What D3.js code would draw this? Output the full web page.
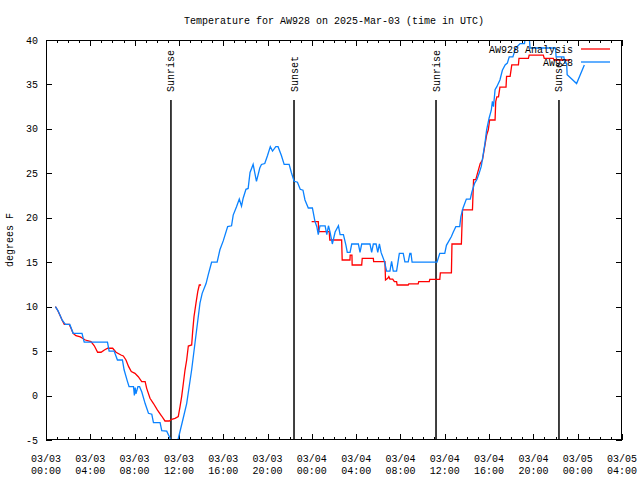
<!DOCTYPE html>
<html>
<head>
<meta charset="utf-8">
<script src="https://cdn.jsdelivr.net/npm/d3@7"></script>
<style>
  html, body { margin: 0; padding: 0; background: #fff; }
  svg { display: block; }
  text { font-family: "Liberation Mono", "DejaVu Sans Mono", monospace; font-size: 10px; fill: #000; }
</style>
</head>
<body>
<svg id="chart" width="640" height="480"></svg>
<script>
// ---- data (hours since 2025-03-03 00:00 UTC, degrees F) ----
const titleText = "Temperature for AW928 on 2025-Mar-03 (time in UTC)";
const yLabel = "degrees F";
const seriesNames = ["AW928 Analysis", "AW928"];

const obsHours = [0.85,1.1,1.45,1.75,2.15,2.45,3.25,3.45,5.55,5.7,6.15,6.45,6.9,7.05,7.35,7.5,7.9,7.98,8.05,8.12,8.3,8.45,8.65,8.95,9.25,9.55,9.7,10.3,10.45,10.9,11.2,11.4,11.7,11.95,12.3,12.7,13.15,13.6,13.9,14.1,14.45,14.65,14.95,15.45,15.7,16.0,16.4,16.75,16.9,17.2,17.45,17.65,17.8,18.05,18.25,18.42,18.7,19.0,19.3,19.45,19.75,20.0,20.25,20.45,20.75,20.95,21.25,21.5,21.95,22.15,22.4,22.7,22.95,23.2,23.38,23.68,24.05,24.28,24.45,24.58,24.73,25.2,25.35,25.5,25.64,25.85,26.1,26.4,26.55,26.85,27.08,27.2,27.45,27.6,28.2,28.35,28.5,29.25,29.4,29.55,29.8,29.95,30.1,30.25,30.55,30.75,31.05,31.2,31.35,31.65,31.9,32.25,32.4,32.7,32.85,32.95,33.05,35.3,35.55,36.0,36.15,36.6,36.77,37.0,37.35,37.45,37.65,37.95,38.3,38.45,38.7,38.9,39.1,39.3,39.45,39.63,39.78,40.0,40.2,40.3,40.4,40.54,40.7,40.98,41.2,41.45,41.65,41.82,42.15,42.4,42.8,43.2,43.35,43.55,43.7,46.0,46.05,46.75,46.85,47.0,47.05,47.9,48.6];
const obsTemps = [10.0,9.5,8.5,8.0,8.0,7.0,7.0,6.0,6.0,5.0,5.0,4.0,4.0,2.9,1.6,1.0,1.0,0.0,0.9,0.2,1.0,1.0,0.4,-0.9,-2.0,-2.1,-3.05,-3.05,-3.95,-4.0,-4.8,-6.0,-6.0,-4.8,-3.0,-0.9,2.9,7.4,10.4,11.5,12.6,13.6,15.0,15.0,16.4,17.4,19.0,19.1,20.3,21.25,22.1,21.3,22.2,23.2,23.3,25.1,26.0,24.1,25.6,26.0,26.1,27.0,28.0,27.5,28.0,28.0,27.0,26.0,26.0,25.1,24.1,24.0,23.2,23.1,22.0,21.1,21.1,19.6,19.0,18.1,19.1,19.1,18.1,19.1,18.4,17.05,18.4,19.1,18.1,18.1,16.9,16.1,16.1,17.05,17.05,16.1,17.05,17.05,16.1,17.05,17.05,16.1,17.05,16.1,15.1,14.0,14.0,15.1,14.0,14.0,16.0,16.0,15.05,15.05,16.0,16.0,15.0,15.0,16.0,16.0,16.9,17.9,18.4,19.0,19.0,20.1,21.1,22.1,22.1,22.9,23.9,24.3,25.0,25.8,27.0,28.4,29.9,31.2,32.1,33.1,32.5,34.4,34.75,35.5,36.6,37.2,37.4,38.1,38.1,39.1,39.6,39.6,41.5,41.5,39.1,39.1,38.1,38.1,37.4,37.4,36.1,35.1,37.2];

const anaHours1 = [0.85,1.05,1.25,1.45,1.65,2.1,2.26,2.45,2.7,3.1,3.3,3.55,4.06,4.36,4.66,4.97,5.27,5.57,6.02,6.32,6.77,6.98,7.22,7.46,7.7,8.03,8.33,8.64,8.95,9.09,9.39,9.69,10.05,10.44,10.74,11.13,11.35,11.65,11.94,12.1,12.25,12.4,12.55,12.7,12.85,13.15,13.24,13.36,13.54,13.7,13.84,14.0];
const anaTemps1 = [10.0,9.6,9.06,8.5,8.0,8.0,7.56,7.0,6.74,6.6,6.44,6.25,6.06,5.6,4.87,4.87,5.13,5.32,5.32,4.87,4.56,4.45,4.0,3.25,2.7,2.5,2.12,1.56,1.56,0.81,-0.31,-0.87,-1.62,-2.3,-2.86,-2.86,-2.67,-2.56,-2.37,-1.25,-0.1,1.38,2.87,4.0,5.57,5.69,7.19,8.87,10.4,11.7,12.44,12.44];
const anaHours2 = [23.98,24.58,24.62,25.57,25.62,26.69,26.74,27.44,27.46,27.62,27.64,28.5,28.55,29.55,29.58,30.6,30.65,30.85,30.95,31.05,31.3,31.45,31.65,31.7,32.7,32.75,33.6,33.65,34.6,34.65,35.55,35.6,36.6,36.65,37.5,37.6,38.5,38.6,38.8,38.95,39.2,39.4,39.63,39.78,39.93,40.05,40.54,40.6,40.7,40.85,40.98,41.53,41.58,41.9,42.05,42.65,42.7,43.55,43.62,44.9,44.98,45.8,45.86,47.3];
const anaTemps2 = [19.56,19.56,18.44,18.44,17.5,17.5,15.25,15.25,15.8,15.8,14.69,14.69,15.44,15.44,15.06,15.06,13.0,13.19,13.38,13.1,13.1,12.81,12.81,12.44,12.44,12.56,12.56,12.81,12.81,13.06,13.06,13.8,13.8,17.05,17.05,20.9,20.9,24.3,24.3,25.0,26.1,26.5,28.2,29.3,29.9,31.0,31.0,33.06,33.6,33.6,34.7,34.7,35.9,35.9,37.2,37.2,37.94,37.94,38.3,38.3,37.94,37.94,37.75,37.75];

const sunLabels = ["Sunrise", "Sunset", "Sunrise", "Sunset"];
const sunHours = [11.28, 22.39, 35.21, 46.31];

const xTickHours = [0,4,8,12,16,20,24,28,32,36,40,44,48,52];
const xTickDates = ["03/03","03/03","03/03","03/03","03/03","03/03","03/04","03/04","03/04","03/04","03/04","03/04","03/05","03/05"];
const xTickTimes = ["00:00","04:00","08:00","12:00","16:00","20:00","00:00","04:00","08:00","12:00","16:00","20:00","00:00","04:00"];
const yTicks = [-5,0,5,10,15,20,25,30,35,40];

// ---- layout ----
const svg = d3.select("#chart");
const L = 46, R = 622, T = 40, B = 440;
const x = d3.scaleLinear().domain([0, 52]).range([L, R]);
const y = d3.scaleLinear().domain([-5, 40]).range([B, T]);
const redC = "#ff0000", blueC = "#0a82ff";

svg.append("defs").append("clipPath").attr("id", "clip")
  .append("rect").attr("x", L).attr("y", T).attr("width", R - L).attr("height", B - T);

// title
svg.append("text").attr("x", 334).attr("y", 24).attr("text-anchor", "middle").text(titleText);

// y label
svg.append("text").attr("transform", "translate(13,240) rotate(-90)")
  .attr("text-anchor", "middle").text(yLabel);

// ticks
const tk = svg.append("g").attr("stroke", "#000").attr("stroke-width", 1).attr("shape-rendering", "crispEdges");
d3.range(0, 53, 1).forEach(h => {
  const major = h % 4 === 0;
  const len = major ? 6 : 3;
  const xx = Math.round(x(h)) + 0.5;
  tk.append("line").attr("x1", xx).attr("x2", xx).attr("y1", B).attr("y2", B - len);
  tk.append("line").attr("x1", xx).attr("x2", xx).attr("y1", T).attr("y2", T + len);
});
yTicks.forEach(v => {
  const yy = Math.round(y(v)) + 0.5;
  tk.append("line").attr("x1", L).attr("x2", L + 6).attr("y1", yy).attr("y2", yy);
  tk.append("line").attr("x1", R).attr("x2", R - 6).attr("y1", yy).attr("y2", yy);
});

// tick labels
svg.append("g").selectAll("text").data(yTicks).join("text")
  .attr("x", 38).attr("y", d => y(d) + 3.5).attr("text-anchor", "end").text(d => d);
const xl = svg.append("g").selectAll("g").data(xTickHours).join("g");
xl.append("text").attr("x", d => x(d)).attr("y", 462).attr("text-anchor", "middle").text((d, i) => xTickDates[i]);
xl.append("text").attr("x", d => x(d)).attr("y", 474).attr("text-anchor", "middle").text((d, i) => xTickTimes[i]);

// sunrise / sunset
sunHours.forEach((h, i) => {
  const xx = x(h);
  svg.append("line").attr("x1", xx).attr("x2", xx).attr("y1", 100).attr("y2", B)
    .attr("stroke", "#000").attr("stroke-width", 1.5);
  svg.append("text").attr("transform", `translate(${xx},92) rotate(-90)`)
    .attr("dy", "0.35em").attr("text-anchor", "start").text(sunLabels[i]);
});

// lines
const line = d3.line().x(d => x(d[0])).y(d => y(d[1]));
const g = svg.append("g").attr("clip-path", "url(#clip)").attr("fill", "none").attr("stroke-width", 1.3);
g.append("path").attr("d", line(d3.zip(anaHours1, anaTemps1))).attr("stroke", redC);
g.append("path").attr("d", line(d3.zip(anaHours2, anaTemps2))).attr("stroke", redC);
g.append("path").attr("d", line(d3.zip(obsHours, obsTemps))).attr("stroke", blueC);

// border
svg.append("rect").attr("x", L + 0.5).attr("y", T + 0.5).attr("width", R - L - 1).attr("height", B - T - 1)
  .attr("fill", "none").attr("stroke", "#000").attr("stroke-width", 1).attr("shape-rendering", "crispEdges");

// legend
const legColors = [redC, blueC];
seriesNames.forEach((n, i) => {
  const ly = 49 + i * 13;
  svg.append("text").attr("x", 573).attr("y", ly + 3.5).attr("text-anchor", "end").text(n);
  svg.append("line").attr("x1", 581).attr("x2", 610).attr("y1", ly).attr("y2", ly)
    .attr("stroke", legColors[i]).attr("stroke-width", 1.3);
});
</script>
</body>
</html>
